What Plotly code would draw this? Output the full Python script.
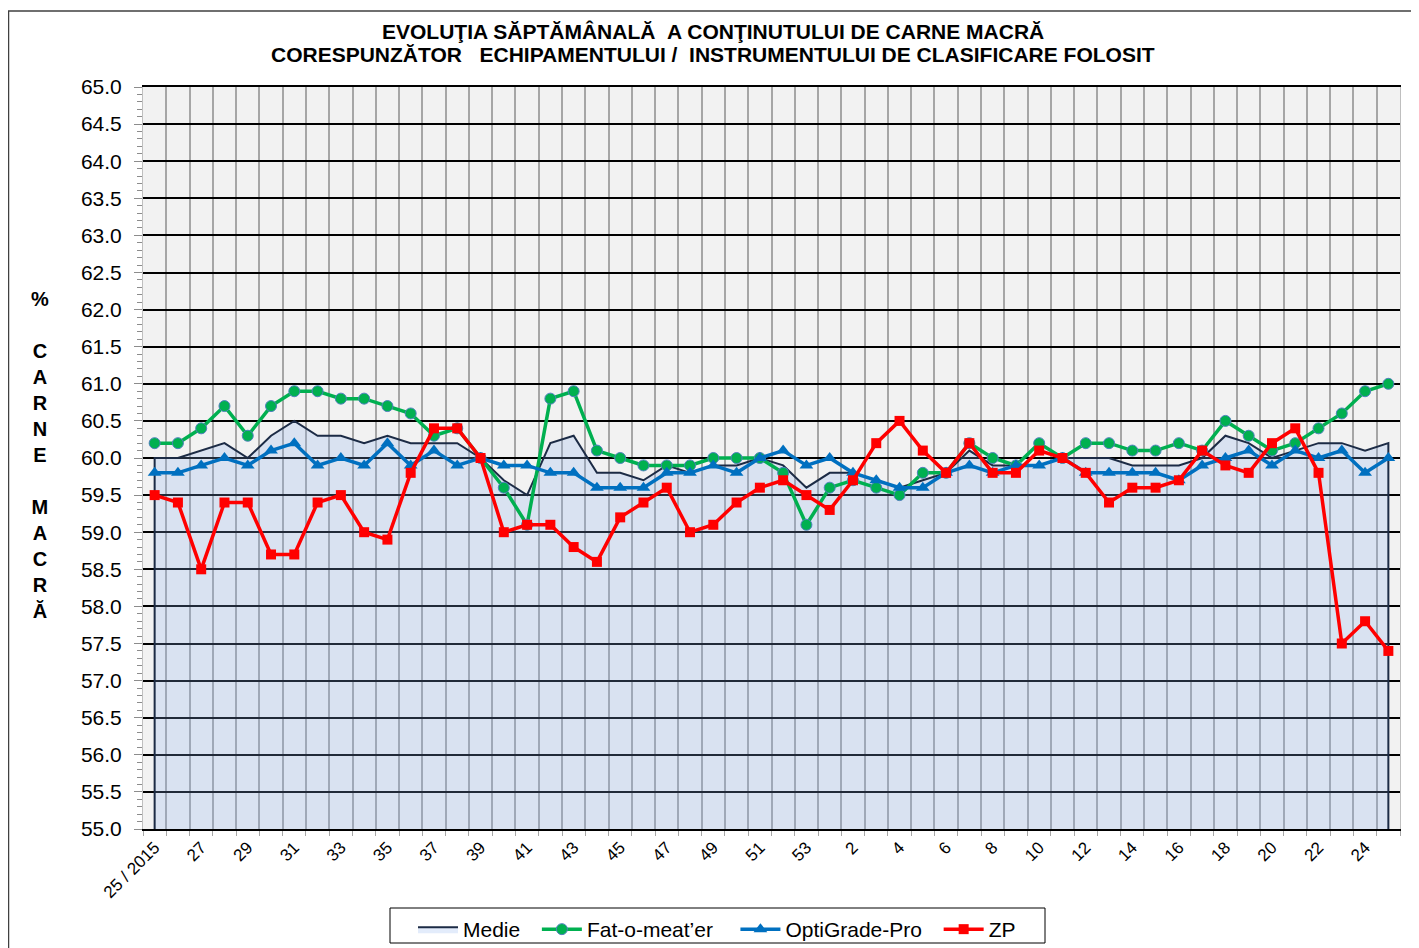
import plotly.graph_objects as go

weeks = ["25 / 2015", "26", "27", "28", "29", "30", "31", "32", "33", "34", "35", "36", "37", "38",
         "39", "40", "41", "42", "43", "44", "45", "46", "47", "48", "49", "50", "51", "52", "53",
         "1", "2", "3", "4", "5", "6", "7", "8", "9", "10", "11", "12", "13", "14", "15", "16",
         "17", "18", "19", "20", "21", "22", "23", "24", "25"]

medie = [60.0, 60.0, 60.1, 60.2, 60.0, 60.3, 60.5, 60.3, 60.3, 60.2, 60.3, 60.2, 60.2, 60.2,
         60.0, 59.7, 59.5, 60.2, 60.3, 59.8, 59.8, 59.7, 59.9, 59.8, 59.9, 59.9, 60.0,
         59.9, 59.6, 59.8, 59.8, 59.7, 59.6, 59.7, 59.8, 60.1, 59.9, 59.9, 59.9,
         60.0, 60.0, 60.0, 59.9, 59.9, 59.9, 60.0, 60.3, 60.2, 60.0, 60.1, 60.2, 60.2, 60.1, 60.2]

fat_o_meater = [60.2, 60.2, 60.4, 60.7, 60.3, 60.7, 60.9, 60.9, 60.8, 60.8, 60.7, 60.6, 60.3, 60.4,
                60.0, 59.6, 59.1, 60.8, 60.9, 60.1, 60.0, 59.9, 59.9, 59.9, 60.0, 60.0, 60.0,
                59.8, 59.1, 59.6, 59.7, 59.6, 59.5, 59.8, 59.8, 60.2, 60.0, 59.9, 60.2,
                60.0, 60.2, 60.2, 60.1, 60.1, 60.2, 60.1, 60.5, 60.3, 60.1, 60.2, 60.4, 60.6, 60.9, 61.0]

optigrade = [59.8, 59.8, 59.9, 60.0, 59.9, 60.1, 60.2, 59.9, 60.0, 59.9, 60.2, 59.9, 60.1, 59.9,
             60.0, 59.9, 59.9, 59.8, 59.8, 59.6, 59.6, 59.6, 59.8, 59.8, 59.9, 59.8, 60.0,
             60.1, 59.9, 60.0, 59.8, 59.7, 59.6, 59.6, 59.8, 59.9, 59.8, 59.9, 59.9,
             60.0, 59.8, 59.8, 59.8, 59.8, 59.7, 59.9, 60.0, 60.1, 59.9, 60.1, 60.0, 60.1, 59.8, 60.0]

zp = [59.5, 59.4, 58.5, 59.4, 59.4, 58.7, 58.7, 59.4, 59.5, 59.0, 58.9, 59.8, 60.4, 60.4,
      60.0, 59.0, 59.1, 59.1, 58.8, 58.6, 59.2, 59.4, 59.6, 59.0, 59.1, 59.4, 59.6,
      59.7, 59.5, 59.3, 59.7, 60.2, 60.5, 60.1, 59.8, 60.2, 59.8, 59.8, 60.1,
      60.0, 59.8, 59.4, 59.6, 59.6, 59.7, 60.1, 59.9, 59.8, 60.2, 60.4, 59.8, 57.5, 57.8, 57.4]

title_lines = ["EVOLU\u0162IA S\u0102PT\u0102M\u00c2NAL\u0102 \u00a0A CON\u0162INUTULUI DE CARNE MACR\u0102",
               "CORESPUNZ\u0102TOR \u00a0 ECHIPAMENTULUI / \u00a0INSTRUMENTULUI DE CLASIFICARE FOLOSIT"]

y_min, y_max = 55.0, 65.0
idx = list(range(len(weeks)))

FONT = "Arial, 'Liberation Sans', sans-serif"

fig = go.Figure()

# Medie as a filled area closed down to the axis minimum
fig.add_trace(go.Scatter(
    x=[idx[0]] + idx + [idx[-1]],
    y=[y_min] + medie + [y_min],
    mode="lines", fill="toself",
    fillcolor="rgba(136,176,240,0.24)",
    line=dict(color="#1c2b45", width=2),
    name="Medie\u00a0\u00a0", hoverinfo="skip"))

fig.add_trace(go.Scatter(
    x=idx, y=fat_o_meater, mode="lines+markers", name="Fat-o-meat\u2019er\u00a0\u00a0\u00a0",
    line=dict(color="#00b050", width=3.5),
    marker=dict(symbol="circle", size=11, color="#00b050",
                line=dict(color="#4f81bd", width=1))))

fig.add_trace(go.Scatter(
    x=idx, y=optigrade, mode="lines+markers", name="OptiGrade-Pro\u00a0\u00a0",
    line=dict(color="#0070c0", width=3.5),
    marker=dict(symbol="triangle-up", size=12, color="#0070c0")))

fig.add_trace(go.Scatter(
    x=idx, y=zp, mode="lines+markers", name="ZP",
    line=dict(color="#ff0000", width=3.5),
    marker=dict(symbol="square", size=10, color="#ff0000")))

# the page adds an 8px body margin; the figure is sized and offset to compensate
OFF = 8
W, H = 1419 - OFF, 948 - OFF
L, T = 143 - OFF, 87 - OFF
R = W - (1400 - OFF)
B = H - (829 - OFF)
pw, ph = W - L - R, H - T - B

def px_x(px):
    return (px - OFF - L) / pw

def px_y(py):
    return (H - B - (py - OFF)) / ph

fig.update_layout(
    width=W, height=H,
    margin=dict(l=L, r=R, t=T, b=B, autoexpand=False),
    paper_bgcolor="white",
    plot_bgcolor="#f2f2f2",
    font=dict(family=FONT, color="black"),
    showlegend=True,
    legend=dict(
        orientation="h", x=px_x(413), xanchor="left",
        y=px_y(909), yanchor="top",
        borderwidth=0, bgcolor="rgba(0,0,0,0)",
        font=dict(size=21, family=FONT),
        itemwidth=40, tracegroupgap=0),
    xaxis=dict(
        range=[-0.5, len(weeks) - 0.5],
        tickmode="array",
        tickvals=idx[::2], ticktext=weeks[::2],
        tickangle=-45, tickfont=dict(size=17, family=FONT),
        ticks="", showgrid=False, zeroline=False, automargin=False,
        showline=True, linecolor="black", linewidth=2, mirror=True,
        minor=dict(tickmode="array", tickvals=[i - 0.5 for i in range(len(weeks) + 1)],
                   ticks="outside", ticklen=5, tickcolor="#a6a6a6", tickwidth=1,
                   showgrid=True, gridcolor="#a6a6a6", gridwidth=2),
        fixedrange=True),
    yaxis=dict(
        range=[y_min, y_max], dtick=0.5, tick0=55, tickformat=".1f",
        tickfont=dict(size=21, family=FONT),
        ticks="outside", ticklen=8, tickcolor="#8c8c8c", tickwidth=1,
        ticklabelstandoff=8, automargin=False,
        showgrid=True, gridcolor="black", gridwidth=2, zeroline=False,
        showline=True, linecolor="#bfbfbf", linewidth=1, mirror=True,
        minor=dict(dtick=0.1, tick0=55, ticks="outside", ticklen=5,
                   tickcolor="#8c8c8c", tickwidth=1, showgrid=False),
        fixedrange=True),
)

# two-line title
for line, ypix in zip(title_lines, [31, 55]):
    fig.add_annotation(
        text="<b>" + line + "</b>", xref="paper", yref="paper",
        x=px_x(713), y=px_y(ypix), xanchor="center", yanchor="middle",
        showarrow=False, font=dict(size=21, family=FONT))

# vertical axis title, letter by letter
fig.add_annotation(
    text="%<br><br>C<br>A<br>R<br>N<br>E<br><br>M<br>A<br>C<br>R<br>\u0102",
    xref="paper", yref="paper", x=px_x(40), y=px_y(455),
    xanchor="center", yanchor="middle", showarrow=False, align="center",
    font=dict(size=20, family=FONT, weight="bold"))

# outer chart border
fig.add_shape(type="rect", xref="paper", yref="paper",
              x0=px_x(8.5), x1=px_x(1440), y0=px_y(970), y1=px_y(11),
              line=dict(color="#404040", width=1.5), fillcolor="rgba(0,0,0,0)", layer="below")

# legend frame
fig.add_shape(type="rect", xref="paper", yref="paper",
              x0=px_x(390), x1=px_x(1045), y0=px_y(943), y1=px_y(908),
              line=dict(color="black", width=1), fillcolor="white", layer="below")

fig.write_html("out.html")
